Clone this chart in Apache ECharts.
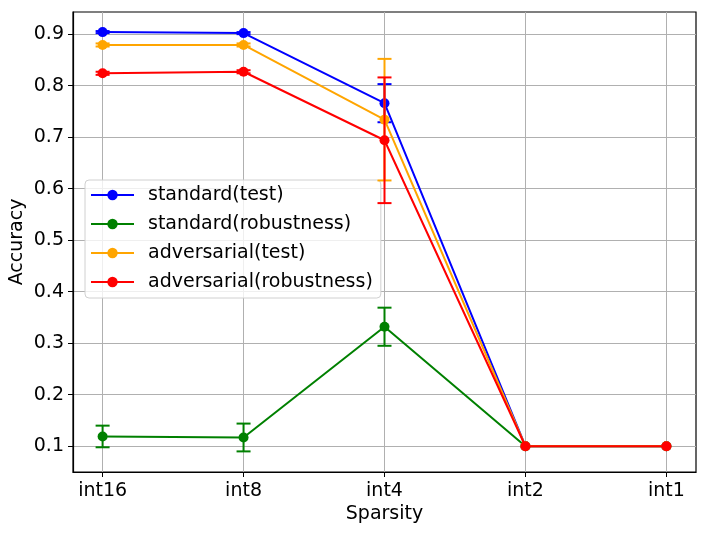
<!DOCTYPE html>
<html>
<head>
<meta charset="utf-8">
<script src="https://cdn.jsdelivr.net/npm/echarts@6/dist/echarts.min.js"></script>
<style>
  html, body { margin: 0; padding: 0; background: #fff; }
  #chart { width: 705px; height: 535px; }
</style>
</head>
<body>
<div id="chart"></div>
<script>
// categories on the x axis
const categories = ['int16', 'int8', 'int4', 'int2', 'int1']
const yTicks = [0.1, 0.2, 0.3, 0.4, 0.5, 0.6, 0.7, 0.8, 0.9]

// mean accuracy per series
const standardTest = [0.904, 0.902, 0.766, 0.1, 0.1]
const standardRobust = [0.119, 0.117, 0.332, 0.1, 0.1]
const adversarialTest = [0.879, 0.879, 0.734, 0.1, 0.1]
const adversarialRobust = [0.824, 0.827, 0.694, 0.1, 0.1]

// half width of the error bars
const standardTestErr = [0.002, 0.002, 0.037, 0, 0]
const standardRobustErr = [0.021, 0.027, 0.037, 0, 0]
const adversarialTestErr = [0.003, 0.003, 0.118, 0, 0]
const adversarialRobustErr = [0.003, 0.003, 0.122, 0, 0]

const FONT = 'DejaVu Sans'

let chart = echarts.init(document.getElementById('chart'))

function lineSeries (name, values, color, z) {
  return {
    name: name,
    type: 'line',
    data: values.map((v, i) => [i, v]),
    symbol: 'circle',
    symbolSize: 10,
    itemStyle: { color: color },
    lineStyle: { color: color, width: 2 },
    z: z,
    animation: false
  }
}

function errorSeries (name, values, errs, color, z) {
  return {
    name: name + '_err',
    type: 'custom',
    data: values.map((v, i) => [i, v - errs[i], v + errs[i]]),
    z: z,
    animation: false,
    renderItem: function (params, api) {
      if (api.value(2) - api.value(1) <= 0) return
      let lo = api.coord([api.value(0), api.value(1)])
      let hi = api.coord([api.value(0), api.value(2)])
      let hw = 7
      let style = { stroke: color, lineWidth: 2 }
      return {
        type: 'group',
        children: [
          { type: 'line', shape: { x1: lo[0], y1: lo[1], x2: hi[0], y2: hi[1] }, style: style },
          { type: 'line', shape: { x1: lo[0] - hw, y1: lo[1], x2: lo[0] + hw, y2: lo[1] }, style: style },
          { type: 'line', shape: { x1: hi[0] - hw, y1: hi[1], x2: hi[0] + hw, y2: hi[1] }, style: style }
        ]
      }
    }
  }
}

let option = {
  backgroundColor: '#fff',
  grid: {
    left: 73, right: 9, top: 12, bottom: 63,
    outerBoundsMode: 'none',
    containLabel: false,
    show: true, borderColor: '#000', borderWidth: 1.2
  },
  legend: {
    data: ['standard(test)', 'standard(robustness)', 'adversarial(test)', 'adversarial(robustness)'],
    orient: 'vertical',
    left: 85,
    top: 180,
    padding: [4, 8, 5, 5],
    itemWidth: 43,
    itemHeight: 13,
    itemGap: 7,
    backgroundColor: 'rgba(255,255,255,0.8)',
    borderColor: '#d0d0d0',
    borderWidth: 1,
    borderRadius: 4,
    textStyle: { fontFamily: FONT, fontSize: 19, color: '#000', lineHeight: 22, padding: [0, 0, 0, 9] }
  },
  xAxis: {
    type: 'value',
    min: -0.21,
    max: 4.21,
    name: 'Sparsity',
    nameLocation: 'middle',
    nameGap: 33,
    nameMoveOverlap: false,
    nameTextStyle: { fontFamily: FONT, fontSize: 19, color: '#000' },
    axisLine: { show: true, onZero: false, lineStyle: { color: '#000', width: 1.2 } },
    axisTick: { show: true, customValues: [0, 1, 2, 3, 4], length: 5, lineStyle: { color: '#000' } },
    axisLabel: {
      customValues: [0, 1, 2, 3, 4],
      formatter: (v) => categories[Math.round(v)],
      fontFamily: FONT, fontSize: 19, color: '#000', margin: 10
    },
    splitLine: { show: true, lineStyle: { color: '#b0b0b0', width: 1 } }
  },
  yAxis: {
    type: 'value',
    min: 0.05,
    max: 0.943,
    name: 'Accuracy',
    nameLocation: 'middle',
    nameGap: 56,
    nameMoveOverlap: false,
    nameTextStyle: { fontFamily: FONT, fontSize: 19, color: '#000', verticalAlign: 'middle' },
    axisLine: { show: true, onZero: false, lineStyle: { color: '#000', width: 1.2 } },
    axisTick: { show: true, customValues: yTicks, length: 5, lineStyle: { color: '#000' } },
    axisLabel: {
      customValues: yTicks,
      formatter: (v) => v.toFixed(1),
      fontFamily: FONT, fontSize: 19, color: '#000', margin: 9
    },
    splitLine: { show: true, lineStyle: { color: '#b0b0b0', width: 1 } }
  },
  series: [
    errorSeries('standard(test)', standardTest, standardTestErr, '#0000ff', 2),
    lineSeries('standard(test)', standardTest, '#0000ff', 2),
    errorSeries('standard(robustness)', standardRobust, standardRobustErr, '#008000', 3),
    lineSeries('standard(robustness)', standardRobust, '#008000', 3),
    errorSeries('adversarial(test)', adversarialTest, adversarialTestErr, '#ffa500', 4),
    lineSeries('adversarial(test)', adversarialTest, '#ffa500', 4),
    errorSeries('adversarial(robustness)', adversarialRobust, adversarialRobustErr, '#ff0000', 5),
    lineSeries('adversarial(robustness)', adversarialRobust, '#ff0000', 5)
  ]
}

chart.setOption(option)
</script>
</body>
</html>
